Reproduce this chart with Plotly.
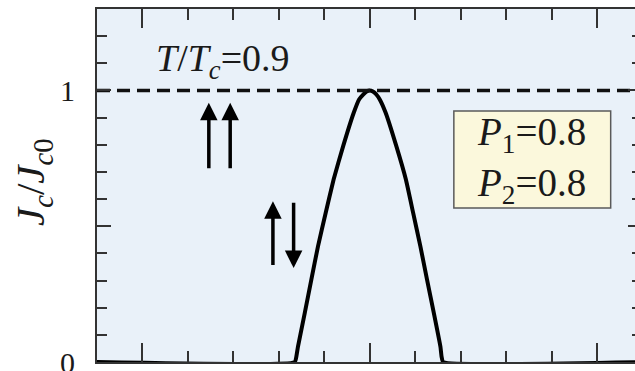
import plotly.graph_objects as go

# ---- data ----
x_vals = [-1.2, -0.330, -0.323, -0.316, -0.286, -0.257, -0.228, -0.194, -0.159, -0.117,
          -0.0705, -0.047, -0.029, -0.014, 0.0, 0.014, 0.029, 0.044, 0.070, 0.117, 0.159,
          0.191, 0.223, 0.252, 0.282, 0.311, 0.316, 0.323, 1.2]
jc_vals = [0.0, 0.0, 0.02, 0.056, 0.180, 0.303, 0.425, 0.549, 0.672, 0.795,
           0.918, 0.967, 0.985, 0.996, 1.0, 0.996, 0.985, 0.967, 0.918, 0.795, 0.672,
           0.549, 0.425, 0.303, 0.180, 0.056, 0.02, 0.0, 0.0]
ref_x = [-1.2, 1.2]
ref_y = [1.0, 1.0]

y_tickvals = [0, 0.5, 1]
y_ticktext = ["0", "", "1"]
x_tickvals = [-1, 0, 1]

SERIF = "Liberation Serif"
AX = "#333333"

fig = go.Figure()
fig.add_trace(go.Scatter(x=ref_x, y=ref_y, mode="lines", yaxis="y2",
                         line=dict(color="#111111", width=3.5, dash="13px,7px"),
                         showlegend=False, hoverinfo="skip"))
fig.add_trace(go.Scatter(x=x_vals, y=jc_vals, mode="lines",
                         line=dict(color="#000000", width=4, shape="spline", smoothing=0.4),
                         showlegend=False))

W, H = 635, 371
ML, MR, MT, MB = 97, 0, 9, 9
pw = W - ML - MR

fig.update_layout(
    width=W, height=H,
    margin=dict(l=ML, r=MR, t=MT, b=MB, autoexpand=False),
    paper_bgcolor="white",
    plot_bgcolor="#e9f1f9",
    font=dict(family=SERIF, color="#1a1a1a"),
    xaxis=dict(range=[-1.2, 1.167], showgrid=False, zeroline=False,
               showline=True, linewidth=2, linecolor=AX, mirror="ticks",
               ticks="inside", ticklen=19, tickwidth=2, tickcolor=AX,
               tickmode="array", tickvals=x_tickvals, showticklabels=False,
               minor=dict(dtick=0.2, tick0=0, ticks="inside", ticklen=11,
                          tickwidth=2, tickcolor=AX, showgrid=False)),
    yaxis=dict(range=[0, 1.3], showgrid=False, zeroline=False,
               showline=True, linewidth=2, linecolor=AX, mirror=False,
               ticks="inside", ticklen=14, tickwidth=2, tickcolor=AX,
               tickmode="array", tickvals=y_tickvals, ticktext=y_ticktext,
               tickfont=dict(family=SERIF, size=30, color="#1a1a1a"),
               ticklabelstandoff=14, ticklabeloverflow="allow",
               minor=dict(dtick=0.1, tick0=0, ticks="inside", ticklen=10,
                          tickwidth=2, tickcolor=AX, showgrid=False)),
    yaxis2=dict(range=[0, 1.3], overlaying="y", side="right", showgrid=False,
                zeroline=False, showline=False, showticklabels=False,
                ticks="inside", ticklen=7, tickwidth=2, tickcolor=AX,
                tickmode="array", tickvals=y_tickvals,
                minor=dict(dtick=0.1, tick0=0, ticks="inside", ticklen=3,
                           tickwidth=2, tickcolor=AX, showgrid=False)),
)

# parameter box
fig.add_shape(type="rect", xref="x", yref="y", x0=0.370, x1=1.060, y0=0.567, y1=0.924,
              fillcolor="#fbf8dc", line=dict(color="#5a5a5a", width=1.5), layer="above")

annotations = [
    dict(text="<i>T</i>/<i>T</i><sub><i>c</i></sub>=0.9", x=-0.950, y=1.110,
         xref="x", yref="y", xanchor="left", yanchor="middle", showarrow=False,
         font=dict(family=SERIF, size=38, color="#1a1a1a")),
    dict(text="<i>P</i><sub>1</sub>=0.8<br><i>P</i><sub>2</sub>=0.8",
         x=0.712, y=0.745, xref="x", yref="y", xanchor="center", yanchor="middle",
         showarrow=False, font=dict(family=SERIF, size=39, color="#1a1a1a")),
    dict(text="<i>J</i><sub><i>c</i></sub>/<i>J</i><sub><i>c</i>0</sub>",
         x=(33 - ML) / pw, y=0.51, xref="paper", yref="paper", textangle=-90,
         xanchor="center", yanchor="middle", showarrow=False,
         font=dict(family=SERIF, size=41, color="#1a1a1a")),
]
# spin arrows (tip at x,y ; tail at ax,ay)
arrows = [(-0.708, 0.955, 0.708), (-0.614, 0.955, 0.708),
          (-0.426, 0.592, 0.352), (-0.335, 0.346, 0.592)]
for (ax_, tip, tail) in arrows:
    annotations.append(dict(text="", x=ax_, y=tip, ax=ax_, ay=tail, xref="x", yref="y",
                            axref="x", ayref="y", showarrow=True, arrowhead=2,
                            arrowsize=1.0, arrowwidth=3.5, arrowcolor="#000000"))
fig.update_layout(annotations=annotations)

fig.write_html("out.html")
